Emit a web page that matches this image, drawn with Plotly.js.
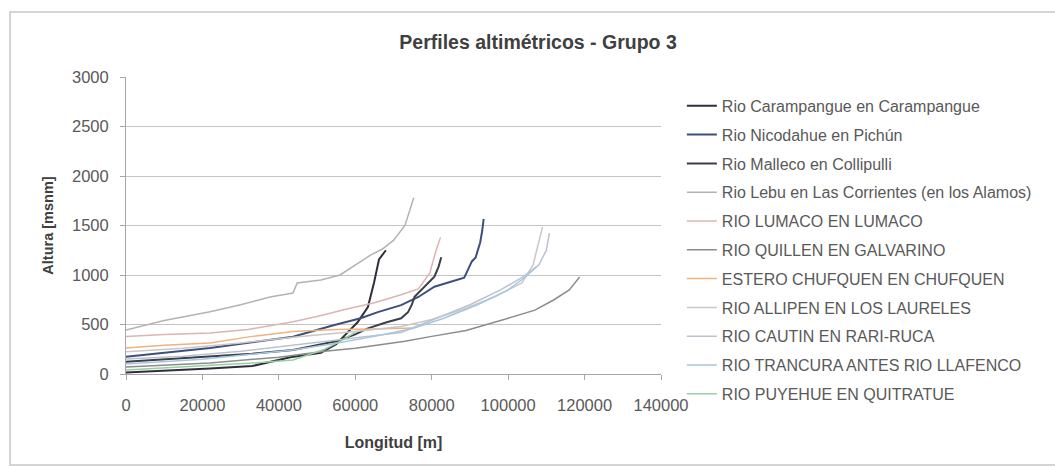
<!DOCTYPE html>
<html>
<head>
<meta charset="utf-8">
<script src="https://cdn.plot.ly/plotly-3.0.1.min.js"></script>
<style>
  html, body { margin: 0; padding: 0; background: #ffffff; }
  #chart { width: 1055px; height: 467px; }
</style>
</head>
<body>
<div id="chart"></div>
<script>
// ---- Data ----
const seriesNames = [
  "Rio Carampangue en Carampangue",
  "Rio Nicodahue en Pichún",
  "Rio Malleco en Collipulli",
  "Rio Lebu en Las Corrientes (en los Alamos)",
  "RIO LUMACO EN LUMACO",
  "RIO QUILLEN EN GALVARINO",
  "ESTERO CHUFQUEN EN CHUFQUEN",
  "RIO ALLIPEN EN LOS LAURELES",
  "RIO CAUTIN EN RARI-RUCA",
  "RIO TRANCURA ANTES RIO LLAFENCO",
  "RIO PUYEHUE EN QUITRATUE"
];

const carampangueX = [0, 10000, 22000, 33000, 43000, 51000, 55000, 58000, 60600, 63300, 64900, 66200, 68000];
const carampangueY = [15, 30, 55, 80, 170, 215, 300, 420, 522, 676, 922, 1157, 1250];

const nicodahueX = [0, 10000, 22000, 33000, 43700, 54300, 61400, 65900, 72000, 76500, 80700, 85000, 88500, 89500, 90500, 91500, 92700, 93200, 93600];
const nicodahueY = [175, 215, 262, 320, 377, 492, 563, 625, 696, 778, 881, 932, 973, 1055, 1137, 1178, 1331, 1444, 1567];

const mallecoX = [0, 10000, 22000, 33000, 43700, 55000, 60000, 63300, 68000, 72000, 73800, 74800, 75500, 78000, 80700, 81800, 82500];
const mallecoY = [124, 148, 175, 205, 242, 330, 400, 461, 520, 563, 625, 700, 780, 880, 983, 1085, 1180];

const lebuX = [0, 10000, 22000, 30000, 37700, 43700, 44800, 51000, 56000, 60000, 64000, 67000, 70000, 73000, 75300];
const lebuY = [445, 540, 629, 700, 778, 818, 920, 950, 1000, 1100, 1200, 1260, 1350, 1500, 1780];

const lumacoX = [0, 10000, 22000, 32000, 43700, 50000, 57000, 65000, 72000, 76500, 79500, 81000, 82300];
const lumacoY = [380, 400, 414, 450, 528, 580, 650, 720, 800, 860, 1020, 1230, 1380];

const quillenX = [0, 10000, 22000, 40000, 52000, 60000, 68000, 73000, 80000, 89000, 98000, 107000, 112000, 116000, 118700];
const quillenY = [71, 90, 111, 170, 230, 260, 300, 330, 380, 440, 540, 645, 750, 850, 980];

const chufquenX = [0, 10000, 22000, 33000, 43700, 55000, 65000, 75000];
const chufquenY = [262, 290, 313, 380, 430, 450, 455, 465];

const allipenX = [0, 15000, 30000, 45000, 60000, 72000, 80000, 88000, 96500, 103600, 106500, 107800, 109000];
const allipenY = [225, 260, 313, 377, 430, 480, 550, 650, 780, 920, 1100, 1300, 1485];

const cautinX = [0, 15000, 30000, 45000, 60000, 72000, 80000, 90000, 98000, 104000, 108000, 110000, 110800];
const cautinY = [151, 180, 230, 300, 370, 420, 543, 700, 850, 983, 1100, 1250, 1424];

const trancuraX = [0, 20000, 43700, 55000, 65000, 75000, 83000, 92000, 100000, 104500, 107500];
const trancuraY = [100, 150, 242, 310, 380, 460, 560, 700, 850, 980, 1085];

const puyehueX = [0, 10000, 22000, 33000, 43700, 52000, 56000, 60000];
const puyehueY = [40, 60, 81, 110, 141, 250, 330, 420];

const xTickVals = [0, 20000, 40000, 60000, 80000, 100000, 120000, 140000];
const yTickVals = [0, 500, 1000, 1500, 2000, 2500, 3000];

// ---- Styles ----
const lineColors = ["#2e2e3c", "#3d4f7d", "#3a3f4a", "#b3b3b3", "#dcb4b4", "#8c8c8c",
                    "#f0b27e", "#c8c8c8", "#bcc2cc", "#a6c6e4", "#96cfa0"];
const lineWidths = [2, 2, 2, 1.5, 1.5, 1.5, 1.5, 1.5, 1.5, 1.5, 1.5];

const xs = [carampangueX, nicodahueX, mallecoX, lebuX, lumacoX, quillenX, chufquenX, allipenX, cautinX, trancuraX, puyehueX];
const ys = [carampangueY, nicodahueY, mallecoY, lebuY, lumacoY, quillenY, chufquenY, allipenY, cautinY, trancuraY, puyehueY];

const traces = seriesNames.map((name, i) => ({
  type: "scatter",
  mode: "lines",
  name: name,
  x: xs[i],
  y: ys[i],
  legendgroup: "g" + i,
  line: { color: lineColors[i], width: lineWidths[i] }
}));

const FONT = "'Liberation Sans', Arial, sans-serif";

const layout = {
  width: 1055,
  height: 467,
  paper_bgcolor: "#ffffff",
  plot_bgcolor: "#ffffff",
  margin: { l: 126, r: 394, t: 77, b: 93 },
  font: { family: FONT, color: "#595959", size: 16 },
  title: {
    text: "<b>Perfiles altimétricos - Grupo 3</b>",
    font: { family: FONT, size: 19.5, color: "#404040" },
    xref: "container", x: 0.51, xanchor: "center",
    yref: "container", y: 0.91, yanchor: "middle"
  },
  xaxis: {
    range: [0, 140000],
    tickvals: xTickVals,
    ticktext: xTickVals.map(String),
    showgrid: false,
    zeroline: false,
    showline: true,
    linecolor: "#a6a6a6",
    linewidth: 1,
    ticks: "outside",
    ticklen: 5,
    tickcolor: "#a6a6a6",
    ticklabelstandoff: 11,
    tickfont: { family: FONT, size: 16.5, color: "#595959" },
    title: { text: "<b>Longitud [m]</b>", font: { family: FONT, size: 16, color: "#404040" }, standoff: 24 },
    automargin: false
  },
  yaxis: {
    range: [0, 3000],
    tickvals: yTickVals,
    ticktext: yTickVals.map(String),
    showgrid: true,
    gridcolor: "#c4c4c4",
    gridwidth: 1,
    zeroline: false,
    showline: true,
    linecolor: "#a6a6a6",
    linewidth: 1,
    ticks: "outside",
    ticklen: 5,
    tickcolor: "#a6a6a6",
    ticklabelstandoff: 8,
    tickfont: { family: FONT, size: 16.5, color: "#595959" },
    title: { text: "<b>Altura [msnm]</b>", font: { family: FONT, size: 14.5, color: "#404040" }, standoff: 14 },
    automargin: false
  },
  legend: {
    x: 1.039, xanchor: "left",
    y: 0.96, yanchor: "top",
    font: { family: FONT, size: 16, color: "#595959" },
    bgcolor: "rgba(0,0,0,0)",
    borderwidth: 0,
    tracegroupgap: 5,
    itemwidth: 30,
    maxheight: 460
  },
  shapes: [{
    type: "rect", xref: "paper", yref: "paper",
    x0: -0.2168, x1: 1.75, y0: -0.306, y1: 1.219,
    line: { color: "#c8c8c8", width: 1.5 },
    fillcolor: "rgba(0,0,0,0)",
    layer: "below"
  }],
  showlegend: true
};

Plotly.newPlot("chart", traces, layout, { displayModeBar: false, staticPlot: true });
</script>
</body>
</html>
